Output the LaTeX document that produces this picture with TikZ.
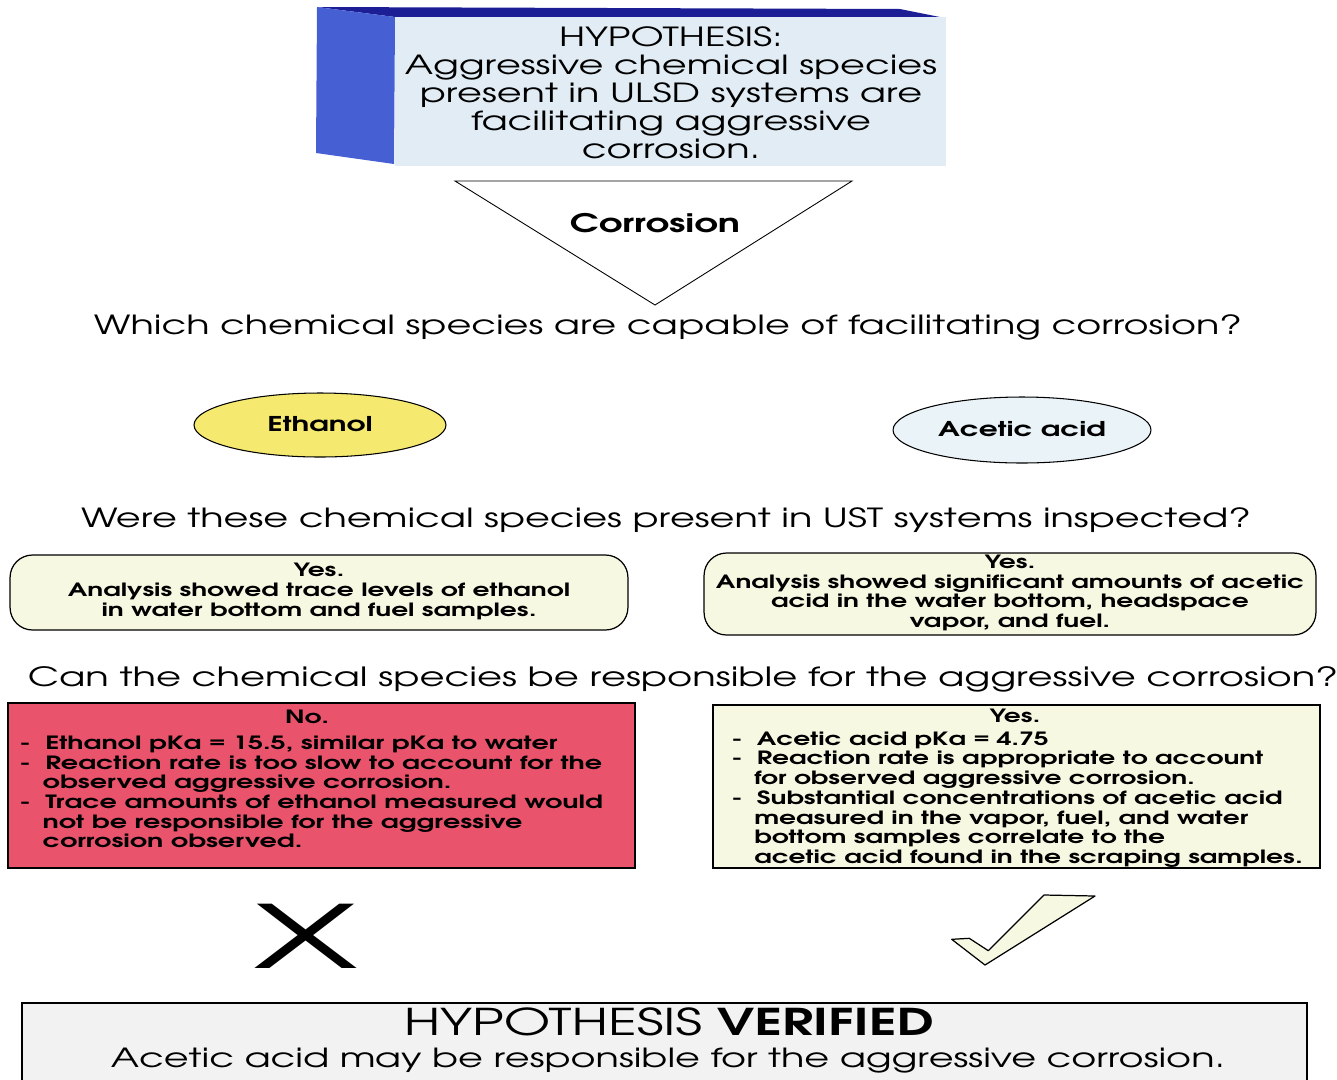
\documentclass[tikz,border=0pt]{standalone}
\usepackage[T1]{fontenc}
\usepackage{avant}
\renewcommand{\familydefault}{\sfdefault}
\usepackage{graphicx}
\usetikzlibrary{shapes.geometric}

\definecolor{sideblue}{RGB}{70,96,212}
\definecolor{topblue}{RGB}{28,30,150}
\definecolor{frontblue}{RGB}{225,236,244}
\definecolor{ethyellow}{RGB}{245,233,112}
\definecolor{acetblue}{RGB}{234,243,248}
\definecolor{paleyellow}{RGB}{247,248,226}
\definecolor{nored}{RGB}{233,83,107}
\definecolor{verigray}{RGB}{242,242,242}

% text is set wide, as in the scanned chart
\newcommand{\wide}[2][c]{\scalebox{1.45}[1]{\begin{tabular}{@{}#1@{}}#2\end{tabular}}}
\newcommand{\dashitem}{\makebox[10pt][l]{-}}
\newcommand{\dashgap}{\hspace*{9pt}}

\begin{document}
\begin{tikzpicture}[x=0.02cm, y=-0.02cm,
    every node/.style = {inner sep = 0pt},
    txt/.style = {yshift = -2pt},
    question/.style = {txt, font = \fontsize{15}{16}\selectfont},
    species/.style = {shape = ellipse, draw = black, line width = .6pt, text depth = 0pt, font = \bfseries\fontsize{11.6}{12}\selectfont},
    yesbox/.style = {draw = black, line width = .7pt, fill = paleyellow, rounded corners = .45cm},
    answer/.style = {draw = black, line width = .9pt},
    small/.style = {font = \bfseries\fontsize{10.4}{11.05}\selectfont}]
    \useasboundingbox (0,0) rectangle (1337,1079);

    % hypothesis block
    \fill[topblue] (317,7) -- (900,9) -- (945,18) -- (395,17) -- cycle;
    \fill[sideblue] (317,7) -- (395,17) -- (394,164) -- (316,153) -- cycle;
    \fill[frontblue] (395,17) rectangle (946,166);
    \node[txt, font = \fontsize{15}{15.9}\selectfont] (hyp) at (671,93) {\wide{HYPOTHESIS:\\ Aggressive chemical species\\ present in ULSD systems are\\ facilitating aggressive\\ corrosion.}};

    \draw[line width = .5pt] (455,181) -- (852,181) -- (655,305) -- cycle;
    \node[txt, font = \bfseries\fontsize{14.5}{15}\selectfont] (corr) at (655,223) {\wide{Corrosion}};

    \node[question] (q1) at (668,325) {\wide{Which chemical species are capable of facilitating corrosion?}};

    \node[species, fill = ethyellow, minimum width = 5.04cm, minimum height = 1.28cm] (eth) at (320,425) {\wide{Ethanol}};
    \node[species, fill = acetblue, minimum width = 5.16cm, minimum height = 1.32cm] (acet) at (1022,430) {\wide{Acetic acid}};

    \node[question] (q2) at (666,518) {\wide{Were these chemical species present in UST systems inspected?}};

    \node[yesbox, small, minimum width = 12.36cm, minimum height = 1.5cm] (ethyes) at (319,592.5) {\wide{Yes.\\ Analysis showed trace levels of ethanol\\ in water bottom and fuel samples.}};
    \node[yesbox, small, minimum width = 12.24cm, minimum height = 1.64cm] (acetyes) at (1010,594) {\wide{Yes.\\ Analysis showed significant amounts of acetic\\ acid in the water bottom, headspace\\ vapor, and fuel.}};

    \node[question, font = \fontsize{15.1}{16}\selectfont] (q3) at (683,677) {\wide{Can the chemical species be responsible for the aggressive corrosion?}};

    % answers
    \node[answer, fill = nored, minimum width = 12.54cm, minimum height = 3.3cm] (ethno) at (321.5,785.5) {};
    \node[txt, small] (notitle) at (307,716) {\wide{No.}};
    \node[txt, small, anchor = west] (nolist) at (19,791) {\scalebox{1.02}[1]{\wide[l]{\dashitem Ethanol pKa = 15.5, similar pKa to water\\
        \dashitem Reaction rate is too slow to account for the\\
        \dashgap observed aggressive corrosion.\\
        \dashitem Trace amounts of ethanol measured would\\
        \dashgap not be responsible for the aggressive\\
        \dashgap corrosion observed.}}};

    \node[answer, fill = paleyellow, minimum width = 12.14cm, minimum height = 3.26cm] (acetok) at (1016.5,786.5) {};
    \node[txt, small] (yestitle) at (1015,715) {\wide{Yes.}};
    \node[txt, small, anchor = west] (yeslist) at (731,797) {\wide[l]{\dashitem Acetic acid pKa = 4.75\\
        \dashitem Reaction rate is appropriate to account\\
        \dashgap for observed aggressive corrosion.\\
        \dashitem Substantial concentrations of acetic acid\\
        \dashgap measured in the vapor, fuel, and water\\
        \dashgap bottom samples correlate to the\\
        \dashgap acetic acid found in the scraping samples.}};

    \node (cross) at (305.5,935.5) {\resizebox{2.1cm}{1.3cm}{X}};
    \draw[line width = .7pt, fill = paleyellow, line join = round] (951.7,939.3) -- (969.3,938.3) -- (988.3,950.7) -- (1044,895) -- (1095,896) -- (985,965) -- cycle;

    % conclusion
    \draw[line width = 1pt, fill = verigray] (22,1003) rectangle (1307,1084);
    \node[txt, font = \fontsize{21}{22}\selectfont] (verified) at (669,1024) {\wide{HYPOTHESIS \textbf{VERIFIED}}};
    \node[txt, font = \fontsize{15}{16}\selectfont] (concl) at (668,1058) {\wide{Acetic acid may be responsible for the aggressive corrosion.}};
\end{tikzpicture}
\end{document}
